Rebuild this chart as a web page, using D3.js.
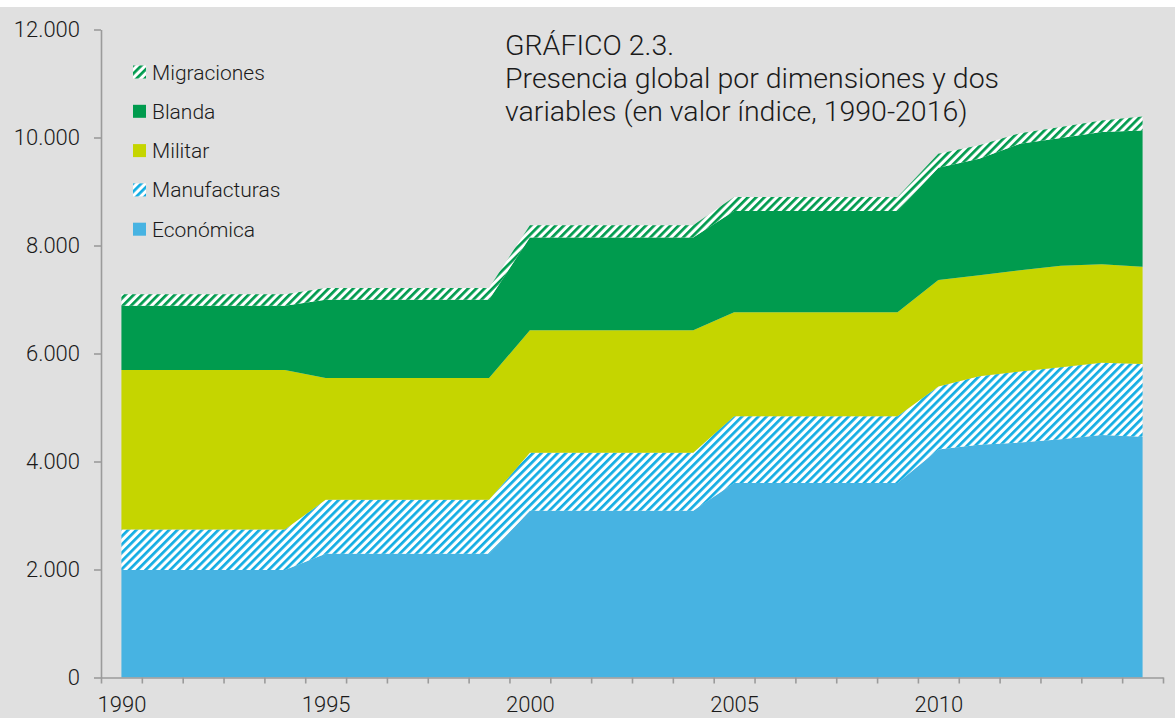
<!DOCTYPE html>
<html lang="es">
<head>
<meta charset="UTF-8">
<title>Gráfico 2.3</title>
<script src="https://cdn.jsdelivr.net/npm/d3@7"></script>
<style>
    body { margin: 0; background: #fff; }
    svg { display: block; }
    .txt { font-family: Roboto, "Liberation Sans", sans-serif; font-weight: 300; fill: #1a1a1a; }
    .axis path, .axis line { fill: none; stroke: #9b9b9b; stroke-width: 1.6; }
    .axis text { font-family: Roboto, "Liberation Sans", sans-serif; font-weight: 300; font-size: 22px; fill: #1a1a1a; }
</style>
</head>
<body>
<script>
    // datos
    let years = d3.range(1990, 2016);
    let economica    = [1990, 1990, 1990, 1990, 1990, 2290, 2290, 2290, 2290, 2290, 3090, 3090, 3090, 3090, 3090, 3600, 3600, 3600, 3600, 3600, 4220, 4310, 4350, 4410, 4490, 4460];
    let manufacturas = [750, 750, 750, 750, 750, 1000, 1000, 1000, 1000, 1000, 1070, 1070, 1070, 1070, 1070, 1240, 1240, 1240, 1240, 1240, 1170, 1270, 1315, 1335, 1340, 1345];
    let militar      = [2955, 2955, 2955, 2955, 2955, 2255, 2255, 2255, 2255, 2255, 2270, 2270, 2270, 2270, 2270, 1925, 1925, 1925, 1925, 1925, 1970, 1870, 1875, 1880, 1825, 1800];
    let blanda       = [1190, 1190, 1190, 1190, 1190, 1450, 1450, 1450, 1450, 1450, 1720, 1720, 1720, 1720, 1720, 1875, 1875, 1875, 1875, 1875, 2080, 2155, 2345, 2365, 2445, 2525];
    let migraciones  = [210, 210, 210, 210, 210, 220, 220, 220, 220, 220, 225, 225, 225, 225, 225, 260, 260, 260, 260, 260, 260, 250, 195, 205, 215, 260];

    let yTicks = [0, 2000, 4000, 6000, 8000, 10000, 12000];
    let xLabels = [1990, 1995, 2000, 2005, 2010];
    let titleLines = ["GRÁFICO 2.3.", "Presencia global por dimensiones y dos", "variables (en valor índice, 1990-2016)"];

    let keys = ["economica", "manufacturas", "militar", "blanda", "migraciones"];
    let names = { economica: "Económica", manufacturas: "Manufacturas", militar: "Militar", blanda: "Blanda", migraciones: "Migraciones" };

    let table = years.map((y, i) => ({
        year: y,
        economica: economica[i],
        manufacturas: manufacturas[i],
        militar: militar[i],
        blanda: blanda[i],
        migraciones: migraciones[i]
    }));

    let W = 1175, H = 718;
    let svg = d3.select("body").append("svg").attr("width", W).attr("height", H);

    svg.append("rect").attr("x", 0).attr("y", 7).attr("width", W).attr("height", H - 7).attr("fill", "#e0e0e0");

    /* patrones rayados */
    let defs = svg.append("defs");
    function stripes(id, color) {
        let p = defs.append("pattern")
            .attr("id", id)
            .attr("patternUnits", "userSpaceOnUse")
            .attr("width", 5.8).attr("height", 5.8)
            .attr("patternTransform", "rotate(45)");
        p.append("rect").attr("width", 5.8).attr("height", 5.8).attr("fill", "#fff");
        p.append("rect").attr("width", 2.7).attr("height", 5.8).attr("fill", color);
    }
    stripes("hatchBlue", "#12ade3");
    stripes("hatchGreen", "#009b4e");

    let fills = {
        economica: "#47b3e2",
        manufacturas: "url(#hatchBlue)",
        militar: "#c5d500",
        blanda: "#009b4e",
        migraciones: "url(#hatchGreen)"
    };

    let x = d3.scaleLinear().domain([1989.5, 2015.5]).range([101, 1163]);
    let y = d3.scaleLinear().domain([0, 12000]).range([677.5, 29.5]);

    let series = d3.stack().keys(keys)(table);

    let area = d3.area()
        .x(d => x(d.data.year))
        .y0(d => y(d[0]))
        .y1(d => y(d[1]));

    svg.append("g")
        .selectAll("path")
        .data(series)
        .join("path")
        .attr("fill", d => fills[d.key])
        .attr("d", area);

    /* ejes */
    let fmt = d3.formatLocale({ decimal: ",", thousands: ".", grouping: [3], currency: ["", ""] }).format(",.0f");

    let yAxis = d3.axisLeft(y).tickValues(yTicks).tickFormat(fmt).tickSize(7).tickPadding(14).tickSizeOuter(0);
    svg.append("g").attr("class", "axis").attr("transform", "translate(101,0)").call(yAxis);

    let xAxis = d3.axisBottom(x).tickValues(d3.range(1989.5, 2016.5, 1)).tickFormat("").tickSize(6).tickSizeOuter(0);
    svg.append("g").attr("class", "axis").attr("transform", "translate(0,677.5)").call(xAxis);

    let xAxisLabels = d3.axisBottom(x).tickValues(xLabels).tickFormat(d3.format("d")).tickSize(0).tickPadding(19);
    let gl = svg.append("g").attr("class", "axis").attr("transform", "translate(0,677.5)").call(xAxisLabels);
    gl.select(".domain").remove();

    /* título */
    svg.append("g").selectAll("text")
        .data(titleLines)
        .join("text")
        .attr("class", "txt")
        .attr("x", 505)
        .attr("y", (d, i) => 55 + i * 33)
        .style("font-size", "28.5px")
        .text(d => d);

    /* leyenda */
    let legendKeys = keys.slice().reverse();
    let lg = svg.append("g").selectAll("g")
        .data(legendKeys)
        .join("g")
        .attr("transform", (d, i) => `translate(133, ${72 + i * 39.3})`);
    lg.append("rect")
        .attr("x", 0).attr("y", -6.5)
        .attr("width", 13).attr("height", 13)
        .attr("fill", d => fills[d]);
    lg.append("text")
        .attr("class", "txt")
        .attr("x", 19)
        .attr("y", 7.5)
        .style("font-size", "21px")
        .text(d => names[d]);
</script>
</body>
</html>
